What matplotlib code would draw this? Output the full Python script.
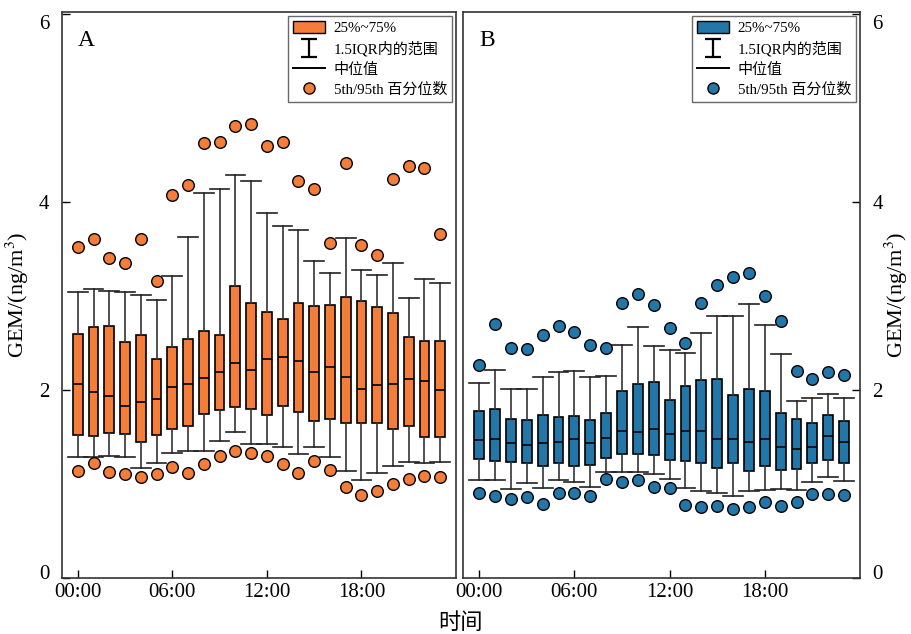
import numpy as np
import matplotlib
matplotlib.use("Agg")
import matplotlib.pyplot as plt
import matplotlib.transforms as mtransforms
from matplotlib.lines import Line2D
from matplotlib.patches import Patch
from matplotlib.path import Path

plt.rcParams['font.family'] = ['Liberation Serif', 'Noto Sans CJK SC']
plt.rcParams['mathtext.fontset'] = 'stix'

hours = list(range(24))
xtick_pos = [0, 6, 12, 18]
xtick_labels = ["00:00", "06:00", "12:00", "18:00"]

# --- Panel A (orange) : whisker low, q1, median, q3, whisker high, p5, p95 ---
a_wlo = [1.29, 1.29, 1.30, 1.29, 1.17, 1.23, 1.33, 1.35, 1.35, 1.46, 1.55, 1.43,
         1.43, 1.39, 1.32, 1.40, 1.29, 1.14, 1.04, 1.12, 1.19, 1.24, 1.22, 1.24]
a_q1 = [1.52, 1.51, 1.54, 1.53, 1.45, 1.52, 1.59, 1.62, 1.75, 1.79, 1.82, 1.80,
        1.74, 1.83, 1.77, 1.67, 1.69, 1.65, 1.65, 1.65, 1.59, 1.62, 1.50, 1.50]
a_med = [2.06, 1.98, 1.94, 1.83, 1.87, 1.91, 2.03, 2.06, 2.13, 2.19, 2.29, 2.21,
         2.33, 2.35, 2.31, 2.19, 2.25, 2.14, 2.01, 2.05, 2.07, 2.12, 2.10, 2.00]
a_q3 = [2.60, 2.67, 2.68, 2.51, 2.59, 2.33, 2.46, 2.54, 2.63, 2.59, 3.11, 2.93,
        2.83, 2.76, 2.93, 2.89, 2.90, 2.99, 2.95, 2.88, 2.82, 2.56, 2.52, 2.52]
a_whi = [3.04, 3.07, 3.05, 3.04, 3.01, 2.96, 3.21, 3.63, 4.10, 4.14, 4.29, 4.22,
         3.88, 3.75, 3.70, 3.37, 3.24, 3.62, 3.28, 3.22, 3.35, 2.98, 3.18, 3.14]
a_p5 = [1.14, 1.22, 1.13, 1.11, 1.08, 1.11, 1.18, 1.12, 1.21, 1.30, 1.35, 1.33,
        1.30, 1.21, 1.12, 1.25, 1.15, 0.97, 0.88, 0.93, 1.00, 1.05, 1.09, 1.08]
a_p95 = [3.52, 3.61, 3.40, 3.35, 3.61, 3.16, 4.07, 4.18, 4.63, 4.64, 4.81, 4.83,
         4.60, 4.64, 4.22, 4.14, 3.56, 4.41, 3.54, 3.44, 4.24, 4.38, 4.36, 3.66]

# --- Panel B (blue) ---
b_wlo = [1.04, 1.04, 0.95, 1.01, 0.96, 1.04, 1.02, 0.97, 1.13, 1.13, 1.13, 1.11,
         1.06, 0.96, 0.93, 0.91, 0.87, 0.93, 0.94, 0.95, 0.94, 1.02, 1.08, 1.03]
b_q1 = [1.27, 1.25, 1.24, 1.22, 1.19, 1.23, 1.19, 1.20, 1.28, 1.32, 1.32, 1.31,
        1.26, 1.25, 1.23, 1.17, 1.22, 1.14, 1.19, 1.15, 1.16, 1.23, 1.26, 1.23]
b_med = [1.47, 1.48, 1.44, 1.42, 1.44, 1.45, 1.48, 1.44, 1.49, 1.56, 1.55, 1.59,
         1.53, 1.57, 1.56, 1.48, 1.48, 1.45, 1.48, 1.40, 1.37, 1.39, 1.51, 1.45]
b_q3 = [1.78, 1.80, 1.69, 1.68, 1.74, 1.71, 1.72, 1.68, 1.76, 1.99, 2.07, 2.09,
        1.90, 2.04, 2.11, 2.12, 1.95, 2.01, 1.99, 1.76, 1.69, 1.65, 1.74, 1.67]
b_whi = [2.08, 2.21, 2.01, 2.01, 2.14, 2.19, 2.20, 2.14, 2.15, 2.48, 2.67, 2.47,
         2.43, 2.39, 2.61, 2.79, 2.79, 2.92, 2.69, 2.38, 1.88, 1.92, 1.96, 1.92]
b_p5 = [0.91, 0.87, 0.84, 0.86, 0.79, 0.91, 0.91, 0.87, 1.05, 1.02, 1.04, 0.97,
        0.96, 0.78, 0.76, 0.77, 0.74, 0.76, 0.81, 0.77, 0.81, 0.90, 0.90, 0.89]
b_p95 = [2.27, 2.70, 2.45, 2.44, 2.59, 2.68, 2.62, 2.48, 2.45, 2.93, 3.02, 2.90,
         2.66, 2.50, 2.93, 3.12, 3.20, 3.25, 3.00, 2.73, 2.20, 2.12, 2.19, 2.16]

ORANGE = "#F47D3A"
BLUE = "#2277A8"

# "I" shaped legend symbol (whisker with caps)
cap_marker = Path([(-0.45, 0.5), (0.45, 0.5), (0, 0.5), (0, -0.5), (-0.45, -0.5), (0.45, -0.5)],
                  [Path.MOVETO, Path.LINETO, Path.MOVETO, Path.LINETO, Path.MOVETO, Path.LINETO])


def draw_panel(ax, wlo, q1, med, q3, whi, p5, p95, color, letter):
    stats = []
    for i in range(len(hours)):
        stats.append(dict(med=med[i], q1=q1[i], q3=q3[i],
                          whislo=wlo[i], whishi=whi[i], fliers=[]))
    ax.bxp(stats, positions=hours, widths=0.62, capwidths=1.25,
           patch_artist=True, showfliers=False,
           boxprops=dict(facecolor=color, edgecolor="black", linewidth=1.2),
           medianprops=dict(color="black", linewidth=1.2),
           whiskerprops=dict(color="#333333", linewidth=1.2),
           capprops=dict(color="#222222", linewidth=1.2))
    ax.scatter(hours, p95, s=70, color=color, edgecolor="black", linewidth=1.0, zorder=3)
    ax.scatter(hours, p5, s=70, color=color, edgecolor="black", linewidth=1.0, zorder=3)

    ax.set_xlim(-1, 24)
    ax.set_ylim(0, 6.02)
    ax.set_yticks([0, 2, 4, 6])
    ax.set_xticks(xtick_pos)
    ax.set_xticklabels(xtick_labels)
    ax.tick_params(direction="in", labelsize=15, length=6, width=1)
    ax.tick_params(axis="y", pad=9)
    for s in ax.spines.values():
        s.set_linewidth(1.2)
        s.set_color("#333333")
    ax.text(0.04, 0.968, letter, transform=ax.transAxes, fontsize=17, va="top")

    handles = [
        Patch(facecolor=color, edgecolor="black", linewidth=1.0),
        Line2D([], [], linestyle="none", marker=cap_marker, markersize=13,
               markeredgewidth=1.6, color="black"),
        Line2D([], [], color="black", linewidth=1.4),
        Line2D([], [], linestyle="none", marker="o", markersize=8, markerfacecolor=color,
               markeredgecolor="black"),
    ]
    labels = ["25%~75%", "1.5IQR内的范围", "中位值", "5th/95th 百分位数"]
    leg = ax.legend(handles, labels, loc="upper right", fontsize=10.8, frameon=True,
                    fancybox=False, edgecolor="#444444", handlelength=2.1,
                    handleheight=0.8, labelspacing=0.4, borderpad=0.35,
                    handletextpad=0.6, borderaxespad=0.25,
                    bbox_to_anchor=(1.0, 1.0))
    leg.get_frame().set_linewidth(1.0)

    # small vertical nudges of the end labels, as in the original
    up = mtransforms.ScaledTranslation(0, 6 / 100, ax.figure.dpi_scale_trans)
    down = mtransforms.ScaledTranslation(0, -8 / 100, ax.figure.dpi_scale_trans)
    for lab in (ax.yaxis.majorTicks[0].label1, ax.yaxis.majorTicks[0].label2):
        lab.set_transform(lab.get_transform() + up)
    for lab in (ax.yaxis.majorTicks[3].label1, ax.yaxis.majorTicks[3].label2):
        lab.set_transform(lab.get_transform() + down)


fig = plt.figure(figsize=(9.12, 6.34), dpi=100)
axA = fig.add_axes([0.068, 0.088, 0.432, 0.893])
axB = fig.add_axes([0.508, 0.088, 0.435, 0.893])

axB.yaxis.tick_right()
axB.yaxis.set_label_position("right")

draw_panel(axA, a_wlo, a_q1, a_med, a_q3, a_whi, a_p5, a_p95, ORANGE, "A")
draw_panel(axB, b_wlo, b_q1, b_med, b_q3, b_whi, b_p5, b_p95, BLUE, "B")

axA.set_ylabel("GEM/(ng/m$^3$)", fontsize=16)
axA.yaxis.labelpad = 6

axB.set_ylabel("GEM/(ng/m$^3$)", fontsize=16, rotation=90)
axB.yaxis.labelpad = 0

fig.text(0.505, 0.0, "时间", ha="center", va="bottom", fontsize=16)

fig.savefig("out.png", dpi=100)
